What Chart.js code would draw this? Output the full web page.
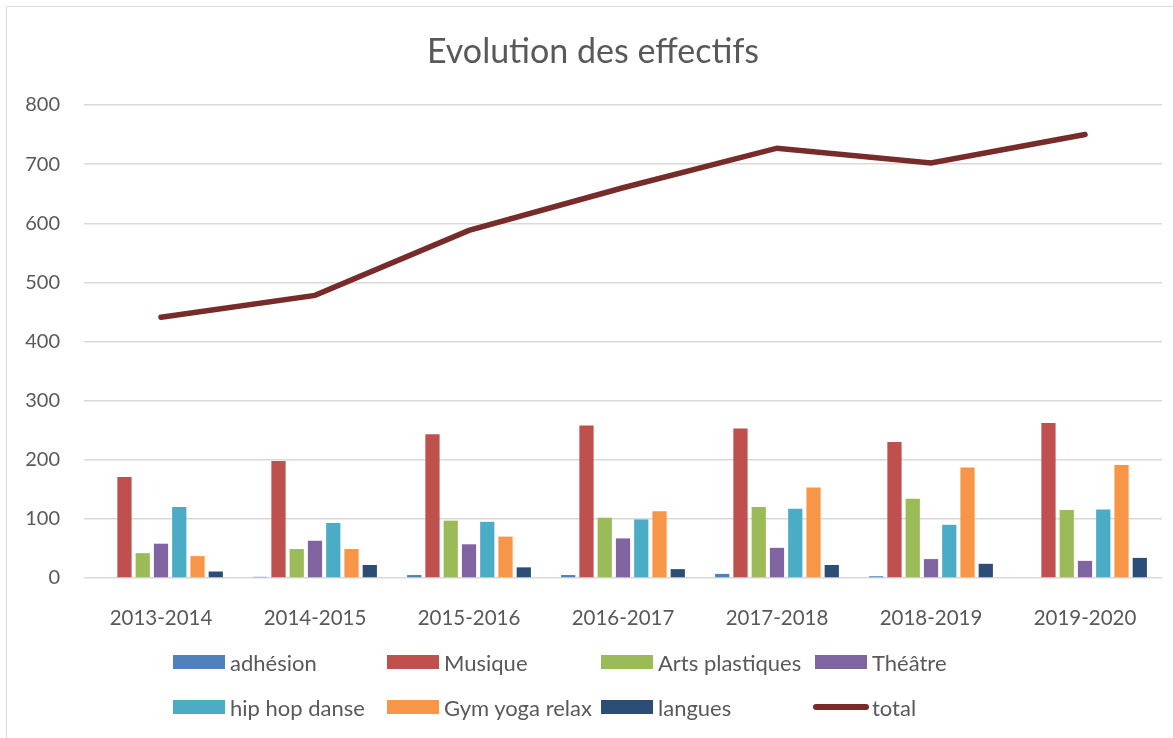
<!DOCTYPE html>
<html>
<head>
<meta charset="utf-8">
<script src="https://cdn.jsdelivr.net/npm/chart.js@4"></script>
<style>
  body { margin: 0; background: #fff; font-family: Lato, sans-serif; }
  #wrap { position: relative; width: 1173px; height: 738px; overflow: hidden; }
  #frame { position: absolute; left: 6px; top: 6px; width: 1200px; height: 800px; border: 1px solid #d9d9d9; }
  #chart { position: absolute; left: 0; top: 0; }
  #title { position: absolute; left: 293px; width: 600px; top: 30px; line-height: 40px; text-align: center; font-size: 34px; color: #595959; }
  .leg { position: absolute; height: 24px; display: flex; align-items: center; font-size: 22px; color: #595959; white-space: nowrap; }
  .leg .sw { width: 52px; height: 14px; margin-right: 5px; }
  .leg .ln { width: 56px; height: 6px; border-radius: 3px; margin-right: 3px; }
</style>
</head>
<body>
<div id="wrap">
  <div id="frame"></div>
  <canvas id="chart" width="1173" height="738"></canvas>
  <div id="title">Evolution des effectifs</div>
  <div id="legend"></div>
</div>
<script>
const years = ['2013-2014', '2014-2015', '2015-2016', '2016-2017', '2017-2018', '2018-2019', '2019-2020'];

const adhesion = [0, 2, 5, 5, 7, 3, 0];
const musique = [171, 198, 243, 258, 253, 230, 262];
const artsPlastiques = [42, 49, 97, 102, 120, 134, 115];
const theatre = [58, 63, 57, 67, 51, 32, 29];
const hipHopDanse = [120, 93, 95, 99, 117, 90, 116];
const gymYogaRelax = [37, 49, 70, 113, 153, 187, 191];
const langues = [11, 22, 18, 15, 22, 24, 34];
const total = [441, 478, 588, 660, 727, 702, 750];

const yTicks = [0, 100, 200, 300, 400, 500, 600, 700, 800];

const barSeries = [
    { label: 'adhésion', data: adhesion, color: '#4f81bd' },
    { label: 'Musique', data: musique, color: '#c0504d' },
    { label: 'Arts plastiques', data: artsPlastiques, color: '#9bbb59' },
    { label: 'Théâtre', data: theatre, color: '#8064a2' },
    { label: 'hip hop danse', data: hipHopDanse, color: '#4bacc6' },
    { label: 'Gym yoga relax', data: gymYogaRelax, color: '#f79646' },
    { label: 'langues', data: langues, color: '#2c4d75' }
];
const totalColor = '#772c2a';

const datasets = barSeries.map(s => ({
    type: 'bar',
    label: s.label,
    data: s.data,
    backgroundColor: s.color,
    categoryPercentage: 0.83,
    barPercentage: 0.78,
    order: 2
}));
datasets.push({
    type: 'line',
    label: 'total',
    data: total,
    borderColor: totalColor,
    borderWidth: 5.5,
    pointRadius: 0,
    tension: 0,
    borderCapStyle: 'round',
    order: 1
});

const textColor = '#595959';

new Chart(document.getElementById('chart'), {
    data: { labels: years, datasets },
    options: {
        responsive: false,
        animation: false,
        layout: { padding: { left: 0, right: 11, top: 105, bottom: 100 } },
        plugins: {
            legend: { display: false },
            tooltip: { enabled: false }
        },
        scales: {
            x: {
                grid: { display: false },
                border: { display: false },
                ticks: { color: textColor, font: { family: 'Lato', size: 20.5 }, padding: 20, maxRotation: 0 },
                afterFit: scale => { scale.height = 60; }
            },
            y: {
                min: 0,
                max: 800,
                afterBuildTicks: scale => { scale.ticks = yTicks.map(v => ({ value: v })); },
                grid: { color: '#d9d9d9', lineWidth: 1.5, drawTicks: false },
                border: { display: false },
                ticks: { color: textColor, font: { family: 'Lato', size: 20 }, padding: 24 },
                afterFit: scale => { scale.width = 84; }
            }
        }
    }
});

// legend laid out in columns like the original
const legendItems = barSeries.map(s => ({ label: s.label, color: s.color, line: false }));
legendItems.push({ label: 'total', color: totalColor, line: true });
const colX = [173, 387, 601, 815];
const rowY = [650, 695];
const legend = document.getElementById('legend');
legendItems.forEach((item, i) => {
    const el = document.createElement('div');
    el.className = 'leg';
    el.style.left = (item.line ? colX[i % 4] - 2 : colX[i % 4]) + 'px';
    el.style.top = rowY[Math.floor(i / 4)] + 'px';
    const sw = document.createElement('span');
    sw.className = item.line ? 'ln' : 'sw';
    sw.style.background = item.color;
    el.appendChild(sw);
    el.appendChild(document.createTextNode(item.label));
    legend.appendChild(el);
});
</script>
</body>
</html>
